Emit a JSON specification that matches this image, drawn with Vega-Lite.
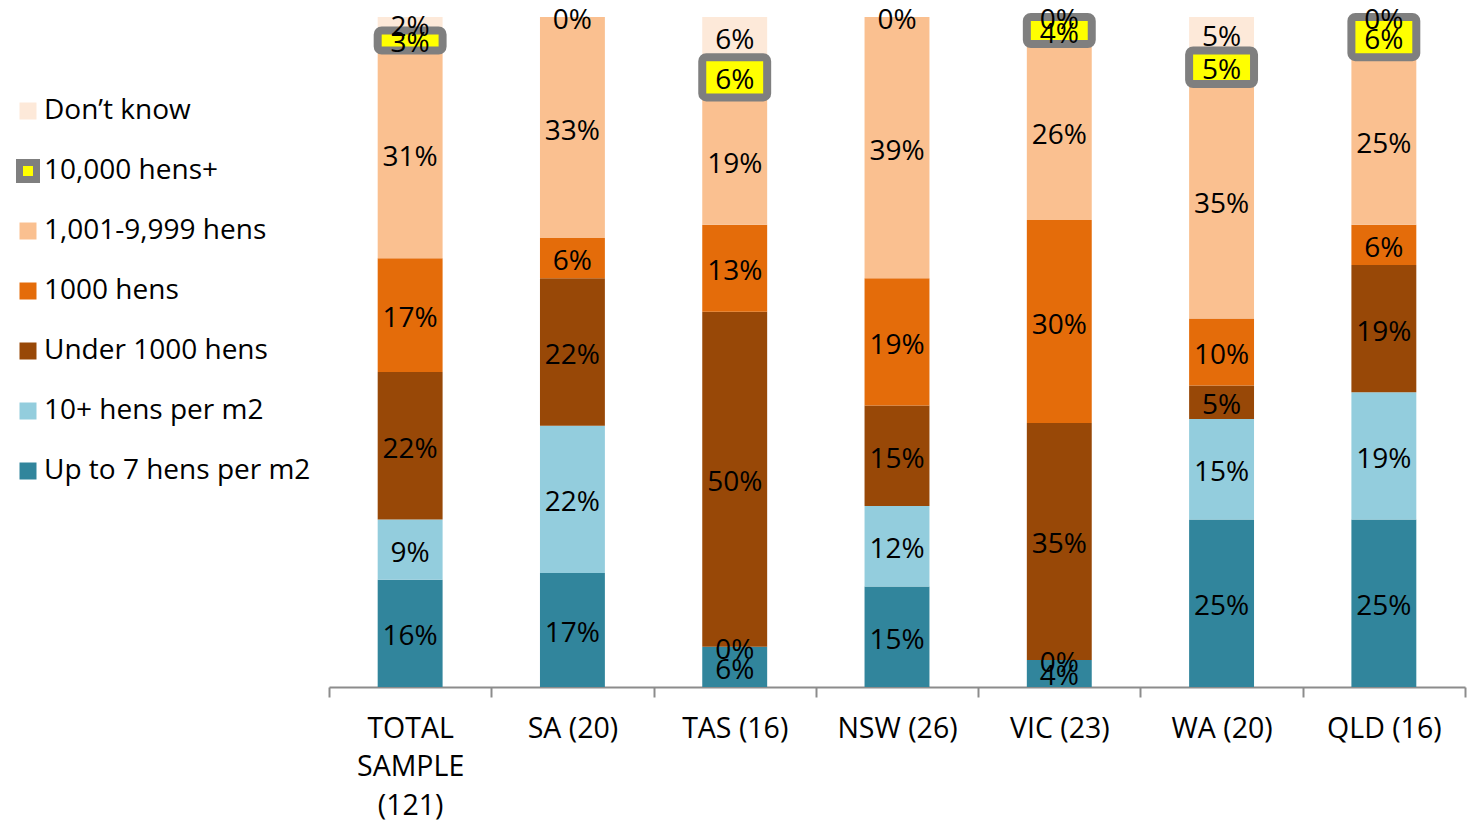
{
  "$schema": "https://vega.github.io/schema/vega-lite/v6.json",
  "width": 1136,
  "height": 670,
  "autosize": {"type": "none"},
  "padding": {"left": 329, "top": 17, "right": 5, "bottom": 133},
  "background": "white",
  "config": {
    "view": {"stroke": null},
    "font": "Open Sans",
    "axisX": {
      "title": null,
      "domainColor": "#8c8c8c",
      "domainWidth": 2,
      "tickColor": "#8c8c8c",
      "tickWidth": 2,
      "tickSize": 10,
      "tickBand": "extent",
      "labelFont": "Open Sans",
      "labelFontSize": 28.5,
      "labelColor": "black",
      "labelPadding": 17,
      "labelAngle": 0,
      "labelLineHeight": 38.5,
      "labelBaseline": "top",
      "labelLimit": 0
    },
    "legend": {
      "orient": "none",
      "legendX": -315,
      "legendY": 80,
      "title": null,
      "symbolType": "square",
      "symbolSize": 289,
      "symbolStrokeWidth": 7,
      "labelFont": "Open Sans",
      "labelFontSize": 28,
      "labelColor": "black",
      "rowPadding": 14,
      "labelOffset": 2,
      "labelLimit": 0
    }
  },
  "data": {
    "values": [
      {"c": "TOTAL SAMPLE (121)", "s": "Up to 7 hens per m2", "v": 0.16},
      {"c": "TOTAL SAMPLE (121)", "s": "10+ hens per m2", "v": 0.09},
      {"c": "TOTAL SAMPLE (121)", "s": "Under 1000 hens", "v": 0.22},
      {"c": "TOTAL SAMPLE (121)", "s": "1000 hens", "v": 0.17},
      {"c": "TOTAL SAMPLE (121)", "s": "1,001-9,999 hens", "v": 0.31},
      {"c": "TOTAL SAMPLE (121)", "s": "10,000 hens+", "v": 0.03},
      {"c": "TOTAL SAMPLE (121)", "s": "Don’t know", "v": 0.02},
      {"c": "SA (20)", "s": "Up to 7 hens per m2", "v": 0.17},
      {"c": "SA (20)", "s": "10+ hens per m2", "v": 0.22},
      {"c": "SA (20)", "s": "Under 1000 hens", "v": 0.22},
      {"c": "SA (20)", "s": "1000 hens", "v": 0.06},
      {"c": "SA (20)", "s": "1,001-9,999 hens", "v": 0.33},
      {"c": "SA (20)", "s": "Don’t know", "v": 0},
      {"c": "TAS (16)", "s": "Up to 7 hens per m2", "v": 0.06},
      {"c": "TAS (16)", "s": "10+ hens per m2", "v": 0},
      {"c": "TAS (16)", "s": "Under 1000 hens", "v": 0.50},
      {"c": "TAS (16)", "s": "1000 hens", "v": 0.13},
      {"c": "TAS (16)", "s": "1,001-9,999 hens", "v": 0.19},
      {"c": "TAS (16)", "s": "10,000 hens+", "v": 0.06},
      {"c": "TAS (16)", "s": "Don’t know", "v": 0.06},
      {"c": "NSW (26)", "s": "Up to 7 hens per m2", "v": 0.15},
      {"c": "NSW (26)", "s": "10+ hens per m2", "v": 0.12},
      {"c": "NSW (26)", "s": "Under 1000 hens", "v": 0.15},
      {"c": "NSW (26)", "s": "1000 hens", "v": 0.19},
      {"c": "NSW (26)", "s": "1,001-9,999 hens", "v": 0.39},
      {"c": "NSW (26)", "s": "Don’t know", "v": 0},
      {"c": "VIC (23)", "s": "Up to 7 hens per m2", "v": 0.04},
      {"c": "VIC (23)", "s": "10+ hens per m2", "v": 0},
      {"c": "VIC (23)", "s": "Under 1000 hens", "v": 0.35},
      {"c": "VIC (23)", "s": "1000 hens", "v": 0.30},
      {"c": "VIC (23)", "s": "1,001-9,999 hens", "v": 0.26},
      {"c": "VIC (23)", "s": "10,000 hens+", "v": 0.04},
      {"c": "VIC (23)", "s": "Don’t know", "v": 0},
      {"c": "WA (20)", "s": "Up to 7 hens per m2", "v": 0.25},
      {"c": "WA (20)", "s": "10+ hens per m2", "v": 0.15},
      {"c": "WA (20)", "s": "Under 1000 hens", "v": 0.05},
      {"c": "WA (20)", "s": "1000 hens", "v": 0.10},
      {"c": "WA (20)", "s": "1,001-9,999 hens", "v": 0.35},
      {"c": "WA (20)", "s": "10,000 hens+", "v": 0.05},
      {"c": "WA (20)", "s": "Don’t know", "v": 0.05},
      {"c": "QLD (16)", "s": "Up to 7 hens per m2", "v": 0.25},
      {"c": "QLD (16)", "s": "10+ hens per m2", "v": 0.19},
      {"c": "QLD (16)", "s": "Under 1000 hens", "v": 0.19},
      {"c": "QLD (16)", "s": "1000 hens", "v": 0.06},
      {"c": "QLD (16)", "s": "1,001-9,999 hens", "v": 0.25},
      {"c": "QLD (16)", "s": "10,000 hens+", "v": 0.06},
      {"c": "QLD (16)", "s": "Don’t know", "v": 0}
    ]
  },
  "transform": [
    {"calculate": "indexof(['Up to 7 hens per m2','10+ hens per m2','Under 1000 hens','1000 hens','1,001-9,999 hens','10,000 hens+','Don’t know'], datum.s)", "as": "k"},
    {"stack": "v", "groupby": ["c"], "sort": [{"field": "k", "order": "ascending"}], "offset": "normalize", "as": ["y0", "y1"]},
    {"calculate": "(datum.y0 + datum.y1) / 2", "as": "ym"}
  ],
  "encoding": {
    "x": {
      "field": "c",
      "type": "nominal",
      "scale": {
        "domain": ["TOTAL SAMPLE (121)", "SA (20)", "TAS (16)", "NSW (26)", "VIC (23)", "WA (20)", "QLD (16)"],
        "paddingInner": 0,
        "paddingOuter": 0
      },
      "axis": {
        "labelExpr": "datum.value == 'TOTAL SAMPLE (121)' ? ['TOTAL', 'SAMPLE', '(121)'] : datum.value"
      }
    }
  },
  "layer": [
    {
      "mark": {"type": "bar", "width": {"band": 0.4}},
      "encoding": {
        "y": {"field": "y0", "type": "quantitative", "scale": {"domain": [0, 1], "nice": false}, "axis": null},
        "y2": {"field": "y1"},
        "fill": {
          "field": "s",
          "type": "nominal",
          "scale": {
            "domain": ["Don’t know", "10,000 hens+", "1,001-9,999 hens", "1000 hens", "Under 1000 hens", "10+ hens per m2", "Up to 7 hens per m2"],
            "range": ["#FDE9D9", "#FFFF00", "#FAC090", "#E46C0A", "#984807", "#93CDDD", "#31859C"]
          }
        }
      }
    },
    {
      "transform": [{"filter": "datum.s == '10,000 hens+'"}],
      "mark": {"type": "bar", "width": {"band": 0.4}, "cornerRadius": 4, "strokeWidth": 8},
      "encoding": {
        "y": {"field": "y0", "type": "quantitative"},
        "y2": {"field": "y1"},
        "fill": {"field": "s", "type": "nominal"},
        "stroke": {
          "field": "s",
          "type": "nominal",
          "scale": {
            "domain": ["Don’t know", "10,000 hens+", "1,001-9,999 hens", "1000 hens", "Under 1000 hens", "10+ hens per m2", "Up to 7 hens per m2"],
            "range": ["transparent", "#7F7F7F", "transparent", "transparent", "transparent", "transparent", "transparent"]
          }
        }
      }
    },
    {
      "mark": {"type": "text", "fontSize": 28, "font": "Open Sans", "color": "black", "baseline": "middle", "align": "center", "dy": 4},
      "encoding": {
        "y": {"field": "ym", "type": "quantitative"},
        "text": {"field": "v", "type": "quantitative", "format": ".0%"}
      }
    }
  ]
}
